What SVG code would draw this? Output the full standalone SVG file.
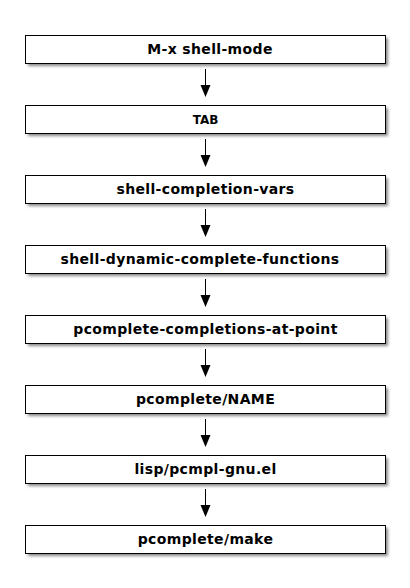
<svg xmlns="http://www.w3.org/2000/svg" width="410" height="588" viewBox="0 0 410 588">
<style>
.box{fill:#fff;stroke:#000;stroke-width:1}
.sh{fill:#888;filter:url(#blur)}
.t{font-family:"DejaVu Sans",sans-serif;font-weight:bold;font-size:14px;letter-spacing:0.35px;text-anchor:middle;fill:#000}
.ts{font-size:12px;letter-spacing:0}
.c{stroke:#000;stroke-width:1;fill:none}
.ah{fill:#000}
</style>
<defs>
<filter id="blur" x="-10%" y="-50%" width="120%" height="200%"><feGaussianBlur stdDeviation="1.5"/></filter>
</defs>
<rect width="410" height="588" fill="#fff"/>
<g id="connectors">
<g><line class="c" x1="205.5" y1="69" x2="205.5" y2="86"/><polygon class="ah" points="200.5,85 210.5,85 205.5,97"/></g>
<g><line class="c" x1="205.5" y1="139" x2="205.5" y2="156"/><polygon class="ah" points="200.5,155 210.5,155 205.5,167"/></g>
<g><line class="c" x1="205.5" y1="209" x2="205.5" y2="226"/><polygon class="ah" points="200.5,225 210.5,225 205.5,237"/></g>
<g><line class="c" x1="205.5" y1="279" x2="205.5" y2="296"/><polygon class="ah" points="200.5,295 210.5,295 205.5,307"/></g>
<g><line class="c" x1="205.5" y1="349" x2="205.5" y2="366"/><polygon class="ah" points="200.5,365 210.5,365 205.5,377"/></g>
<g><line class="c" x1="205.5" y1="419" x2="205.5" y2="436"/><polygon class="ah" points="200.5,435 210.5,435 205.5,447"/></g>
<g><line class="c" x1="205.5" y1="489" x2="205.5" y2="506"/><polygon class="ah" points="200.5,505 210.5,505 205.5,517"/></g>
</g>
<g id="n1"><rect class="sh" x="28" y="38" width="360" height="28"/><rect class="box" x="25.5" y="35.5" width="360" height="28"/><text class="t" x="210" y="54">M-x shell-mode</text></g>
<g id="n2"><rect class="sh" x="28" y="108" width="360" height="28"/><rect class="box" x="25.5" y="105.5" width="360" height="28"/><text class="t ts" x="205.5" y="123.5">TAB</text></g>
<g id="n3"><rect class="sh" x="28" y="178" width="360" height="28"/><rect class="box" x="25.5" y="175.5" width="360" height="28"/><text class="t" x="205.5" y="194">shell-completion-vars</text></g>
<g id="n4"><rect class="sh" x="28" y="248" width="360" height="28"/><rect class="box" x="25.5" y="245.5" width="360" height="28"/><text class="t" x="200" y="264">shell-dynamic-complete-functions</text></g>
<g id="n5"><rect class="sh" x="28" y="318" width="360" height="28"/><rect class="box" x="25.5" y="315.5" width="360" height="28"/><text class="t" x="205.5" y="334">pcomplete-completions-at-point</text></g>
<g id="n6"><rect class="sh" x="28" y="388" width="360" height="28"/><rect class="box" x="25.5" y="385.5" width="360" height="28"/><text class="t" x="205.5" y="404">pcomplete/NAME</text></g>
<g id="n7"><rect class="sh" x="28" y="458" width="360" height="28"/><rect class="box" x="25.5" y="455.5" width="360" height="28"/><text class="t" x="205.5" y="474">lisp/pcmpl-gnu.el</text></g>
<g id="n8"><rect class="sh" x="28" y="528" width="360" height="28"/><rect class="box" x="25.5" y="525.5" width="360" height="28"/><text class="t" x="205.5" y="544">pcomplete/make</text></g>
</svg>
